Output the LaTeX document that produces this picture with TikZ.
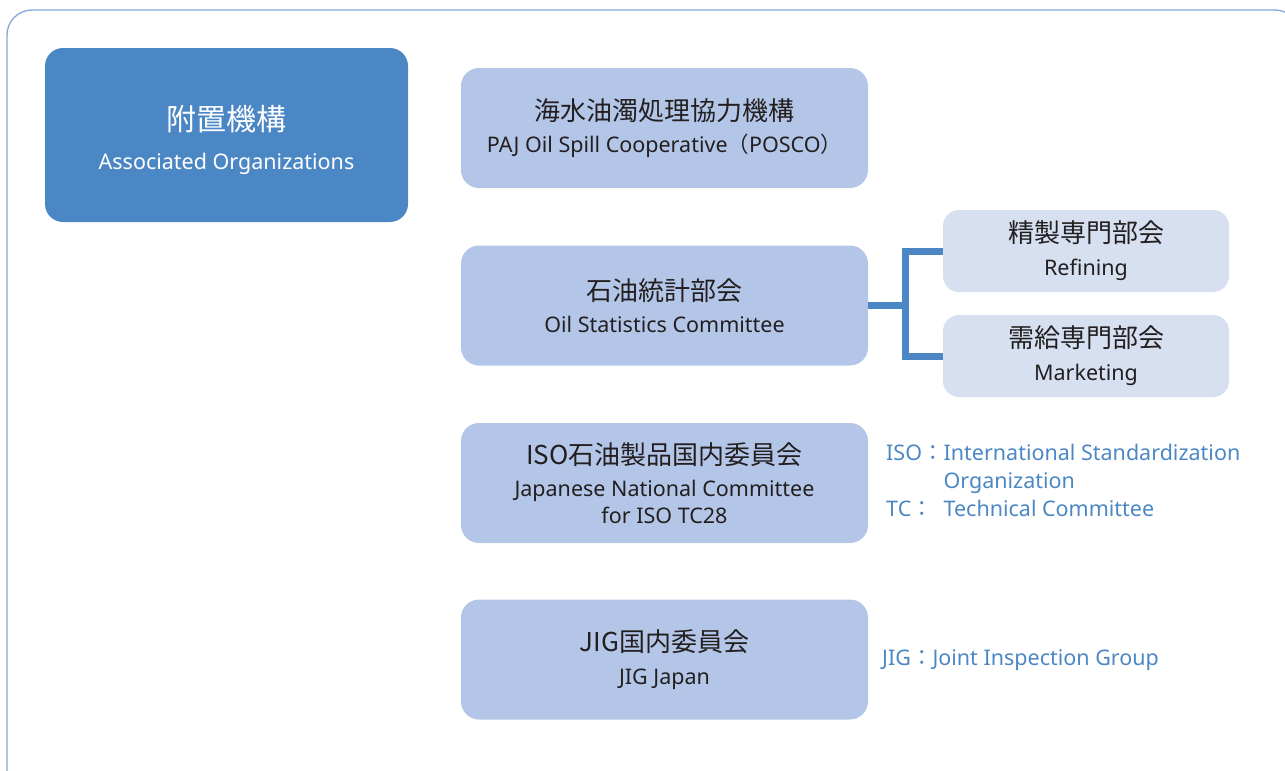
\documentclass[tikz,border=0pt]{standalone}
\usepackage{fontspec}
\setmainfont{Noto Sans}
\newfontfamily\jp{Noto Sans CJK JP}
\definecolor{mainblue}{HTML}{4C87C5}
\definecolor{unitblue}{HTML}{B4C6E7}
\definecolor{subblue}{HTML}{D6E0F1}
\definecolor{framecol}{HTML}{7FA7DB}
\definecolor{ink}{HTML}{231F20}
\newcommand{\jptitle}[1]{{\jp\fontsize{26}{34}\selectfont #1}}
\tikzset{
  mainbox/.style = {fill=mainblue, rounded corners=18, text=white, align=center,
                    minimum width=363, minimum height=174, inner sep=0,
                    font=\fontsize{21.5}{27}\selectfont},
  unitbox/.style = {fill=unitblue, rounded corners=18, text=ink, align=center,
                    minimum width=407, minimum height=120, inner sep=0,
                    font=\fontsize{21.5}{27}\selectfont},
  subbox/.style  = {fill=subblue, rounded corners=16, text=ink, align=center,
                    minimum width=286, minimum height=82, inner sep=0,
                    font=\fontsize{21.5}{27}\selectfont},
  note/.style    = {text=mainblue, anchor=west, align=left, inner sep=0,
                    font=\fontsize{21.5}{28}\selectfont},
  link/.style    = {draw=mainblue, line width=7}
}
\begin{document}
\begin{tikzpicture}[x=1pt, y=-1pt]
        \useasboundingbox (0,0) rectangle (1285,771);
        \draw[framecol, line width=1.3, rounded corners=25] (7,10) rectangle (1300,800);
        \node[mainbox] (assoc) at (226.5,135)
              {\rule{0pt}{36pt}{\jp\fontsize{30}{44}\selectfont 附置機構}\\[12pt] Associated Organizations};
        \node[unitbox] (posco) at (664.5,128)
              {\jptitle{海水油濁処理協力機構}\\[5pt] PAJ Oil Spill Cooperative{\jp（}POSCO{\jp）}};
        \node[unitbox] (stats) at (664.5,305.5)
              {\jptitle{石油統計部会}\\[5pt] Oil Statistics Committee};
        \node[unitbox] (iso)   at (664.5,483)
              {\jptitle{ISO石油製品国内委員会}\\[5pt] Japanese National Committee\\ for ISO TC28};
        \node[unitbox] (jig)   at (664.5,659.5)
              {\jptitle{JIG国内委員会}\\[6pt] JIG Japan};
        \node[subbox]  (refining)  at (1086,251)
              {\jptitle{精製専門部会}\\[6pt] Refining};
        \node[subbox]  (marketing) at (1086,356)
              {\jptitle{需給専門部会}\\[6pt] Marketing};
        \coordinate (branch) at (905,305.5);
        \draw[link]    (stats.east) -- (branch);
        \draw[link]    (refining.west) -| (branch) |- (marketing.west);
        \node[note] (isonote) at (886,483)
              {\begin{tabular}{@{}l@{}l@{}}
                 ISO{\jp：} & International Standardization\\
                            & Organization\\
                 TC{\jp：}  & Technical Committee
               \end{tabular}};
        \node[note] (jignote) at (882,660) {JIG{\jp：}Joint Inspection Group};
\end{tikzpicture}
\end{document}
